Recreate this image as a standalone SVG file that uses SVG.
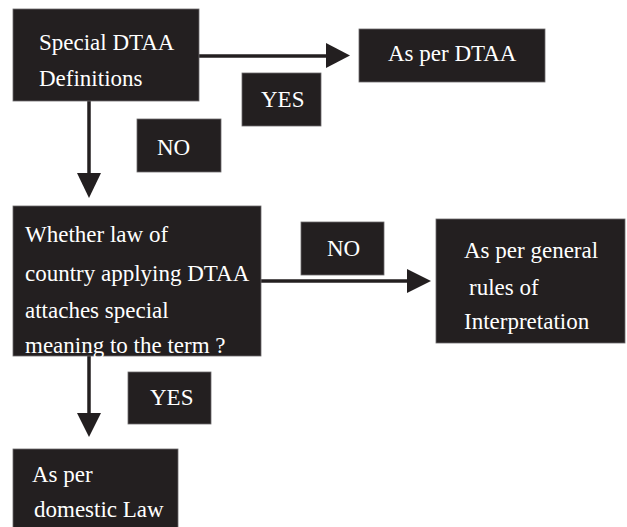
<svg xmlns="http://www.w3.org/2000/svg" width="627" height="527" viewBox="0 0 627 527">
<style>
.box{fill:#231f20;stroke:#6d6a6b;stroke-width:0.8}
.t{font-family:'Liberation Serif','DejaVu Serif',serif;font-size:23px;fill:#ffffff}
.ln{stroke:#231f20;stroke-width:3.5;fill:none}
.ah{fill:#231f20}
</style>
<rect width="627" height="527" fill="#ffffff"/>
<g id="connectors">
<line class="ln" x1="198" y1="56" x2="328" y2="56"/>
<polygon class="ah" points="326,43 350,55.5 326,68"/>
<line class="ln" x1="89" y1="101" x2="89" y2="175"/>
<polygon class="ah" points="77,173 101,173 89,198"/>
<line class="ln" x1="261" y1="281" x2="409" y2="281"/>
<polygon class="ah" points="407,269 431,281 407,293"/>
<line class="ln" x1="89" y1="356" x2="89" y2="415"/>
<polygon class="ah" points="77,413 101,413 89,437"/>
</g>
<g id="n1">
<rect class="box" x="13" y="9" width="186" height="92"/>
<text class="t" x="39" y="50">Special DTAA</text>
<text class="t" x="39" y="86">Definitions</text>
</g>
<g id="n2">
<rect class="box" x="359" y="29" width="186" height="53"/>
<text class="t" x="388" y="61">As per DTAA</text>
</g>
<g id="l1">
<rect class="box" x="242" y="73" width="79" height="53"/>
<text class="t" x="261" y="107">YES</text>
</g>
<g id="l2">
<rect class="box" x="137" y="119" width="84" height="53"/>
<text class="t" x="157" y="155">NO</text>
</g>
<g id="n3">
<rect class="box" x="13" y="206" width="248" height="150"/>
<text class="t" x="25" y="242">Whether law of</text>
<text class="t" x="25" y="281">country applying DTAA</text>
<text class="t" x="25" y="318">attaches special</text>
<text class="t" x="25" y="353">meaning to the term ?</text>
</g>
<g id="l3">
<rect class="box" x="301" y="222" width="83" height="53"/>
<text class="t" x="327" y="256">NO</text>
</g>
<g id="n4">
<rect class="box" x="436" y="219" width="189" height="124"/>
<text class="t" x="464" y="258">As per general</text>
<text class="t" x="469" y="295">rules of</text>
<text class="t" x="464" y="329">Interpretation</text>
</g>
<g id="l4">
<rect class="box" x="128" y="372" width="83" height="52"/>
<text class="t" x="150" y="405">YES</text>
</g>
<g id="n5">
<rect class="box" x="13" y="449" width="165" height="80"/>
<text class="t" x="32" y="482">As per</text>
<text class="t" x="34" y="517">domestic Law</text>
</g>
</svg>
